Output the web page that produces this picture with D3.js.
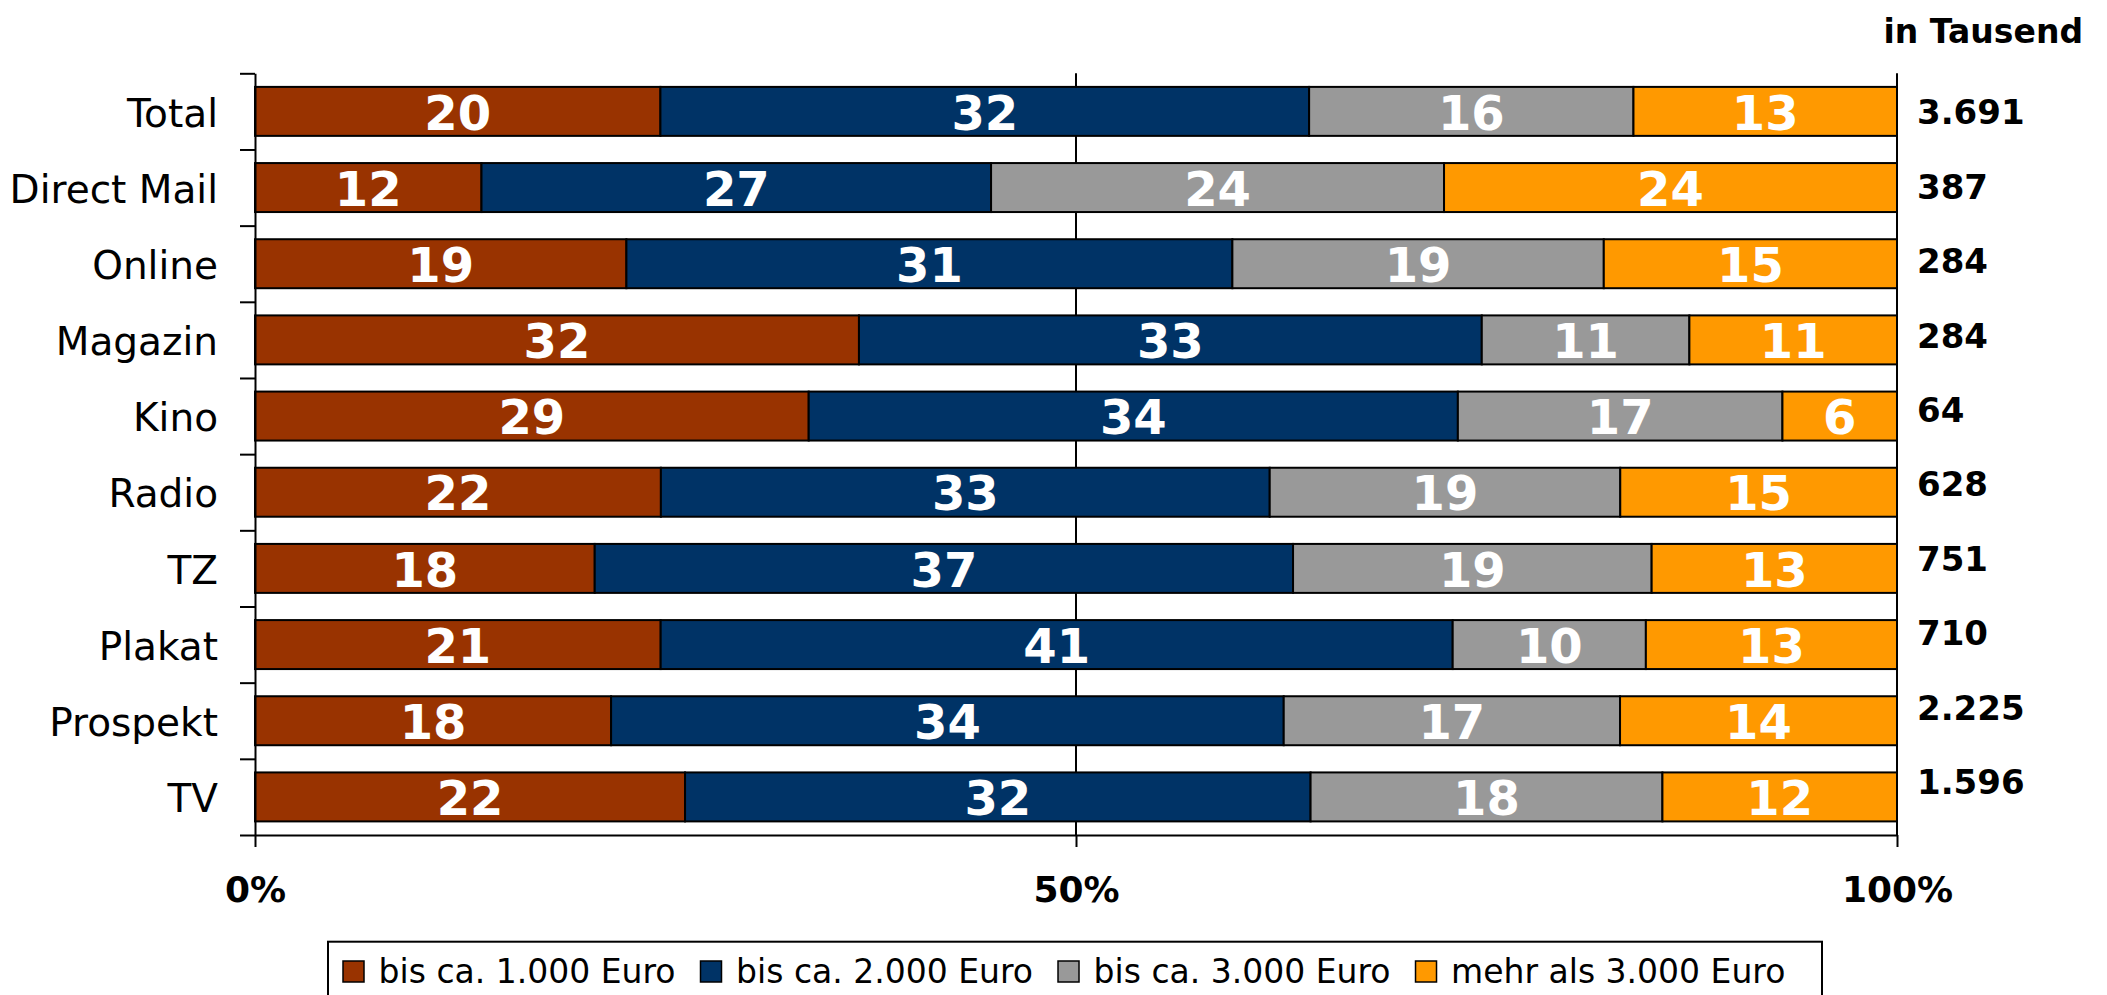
<!DOCTYPE html>
<html><head><meta charset="utf-8">
<script src="https://cdn.jsdelivr.net/npm/d3@7"></script>
<style>body{margin:0;background:#fff;} svg{display:block;}</style>
</head><body><svg id="c" width="2107" height="995"></svg>
<script>
const categories = ["Total","Direct Mail","Online","Magazin","Kino","Radio","TZ","Plakat","Prospekt","TV"];
const seriesNames = ["bis ca. 1.000 Euro","bis ca. 2.000 Euro","bis ca. 3.000 Euro","mehr als 3.000 Euro"];
const s1 = [20,12,19,32,29,22,18,21,18,22];
const s2 = [32,27,31,33,34,33,37,41,34,32];
const s3 = [16,24,19,11,17,19,19,10,17,18];
const s4 = [13,24,15,11,6,15,13,13,14,12];
const totals = ["3.691","387","284","284","64","628","751","710","2.225","1.596"];
const totalsTitle = "in Tausend";
const xTicks = [0,50,100];
const colors = ["#993300","#003366","#999999","#FF9900"];

const series = [s1,s2,s3,s4];
const rows = categories.map((c,i)=>({cat:c, vals: series.map(s=>s[i])}));

const svg = d3.select("#c");
const FONT = "'DejaVu Sans', Verdana, sans-serif";
const X0 = 255, X1 = 1897, Y0 = 73.3, Y1 = 835;

const x = d3.scaleLinear().domain([0,1]).range([X0,X1]);
const xPct = d3.scaleLinear().domain([0,100]).range([X0,X1]);
const y = d3.scaleBand().domain(categories).range([Y0,Y1]).paddingInner(0.357).paddingOuter(0.1785);
const yEdge = d3.scaleLinear().domain([0,categories.length]).range([Y0,Y1]);
const yTot = d3.scaleLinear().domain([0,categories.length-1]).range([112,782]);

const stack = d3.stack().keys([0,1,2,3]).value((d,k)=>d.vals[k]).offset(d3.stackOffsetExpand);
const stacked = stack(rows);

// gridlines at 50%, 100%
svg.append("g").selectAll("line").data([50,100]).join("line")
  .attr("x1",d=>xPct(d)).attr("x2",d=>xPct(d))
  .attr("y1",Y0).attr("y2",Y1)
  .attr("stroke","#000").attr("stroke-width",2);

// bars
const layers = svg.append("g").selectAll("g").data(stacked).join("g")
  .attr("fill",(d,i)=>colors[i]);
layers.selectAll("rect").data(d=>d).join("rect")
  .attr("x",d=>x(d[0])).attr("width",d=>x(d[1])-x(d[0]))
  .attr("y",d=>y(d.data.cat)).attr("height",y.bandwidth())
  .attr("stroke","#000").attr("stroke-width",2);

// bar labels
stacked.forEach((layer,k)=>{
  svg.append("g").selectAll("text").data(layer).join("text")
    .attr("x",d=>(x(d[0])+x(d[1]))/2)
    .attr("y",d=>y(d.data.cat)+y.bandwidth()/2)
    .attr("dy","0.38em")
    .attr("text-anchor","middle")
    .attr("fill","#fff")
    .attr("font-family",FONT).attr("font-weight","bold").attr("font-size",48)
    .text(d=>d.data.vals[k]);
});

// y axis (ticks at band edges)
const yAx = svg.append("g").attr("transform",`translate(${X0},0)`)
  .call(d3.axisLeft(yEdge).tickValues(d3.range(categories.length+1)).tickSize(15).tickSizeOuter(0).tickFormat(""));
yAx.selectAll("path,line").attr("stroke","#000").attr("stroke-width",2);

// category labels
svg.append("g").selectAll("text").data(categories).join("text")
  .attr("x",218).attr("y",d=>y(d)+y.bandwidth()/2).attr("dy","0.39em")
  .attr("text-anchor","end").attr("font-family",FONT).attr("font-size",39).attr("fill","#000")
  .text(d=>d);

// x axis
const xAx = svg.append("g").attr("transform",`translate(0,${Y1})`)
  .call(d3.axisBottom(xPct).tickValues(xTicks).tickSize(12).tickSizeOuter(0).tickPadding(29).tickFormat(d=>d+"%"));
xAx.selectAll("path,line").attr("stroke","#000").attr("stroke-width",2);
xAx.selectAll("text").attr("font-family",FONT).attr("font-weight","bold").attr("font-size",36).attr("fill","#000");

// totals
svg.append("text").attr("x",2083).attr("y",43).attr("text-anchor","end")
  .attr("font-family",FONT).attr("font-weight","bold").attr("font-size",33).text(totalsTitle);
svg.append("g").selectAll("text").data(totals).join("text")
  .attr("x",1917).attr("y",(d,i)=>yTot(i)).attr("dy","0.36em")
  .attr("font-family",FONT).attr("font-weight","bold").attr("font-size",34).attr("fill","#000")
  .text(d=>d);

// legend
const lg = svg.append("g");
lg.append("rect").attr("x",328).attr("y",941.7).attr("width",1494).attr("height",90)
  .attr("fill","#fff").attr("stroke","#000").attr("stroke-width",2);
let lx = 343;
seriesNames.forEach((name,i)=>{
  lg.append("rect").attr("x",lx).attr("y",961).attr("width",21).attr("height",21)
    .attr("fill",colors[i]).attr("stroke","#000").attr("stroke-width",1.5);
  const t = lg.append("text").attr("x",lx+35.6).attr("y",983)
    .attr("font-family",FONT).attr("font-size",33).attr("fill","#000").text(name);
  lx = lx + 35.6 + t.node().getComputedTextLength() + 25;
});
</script>
</body></html>
